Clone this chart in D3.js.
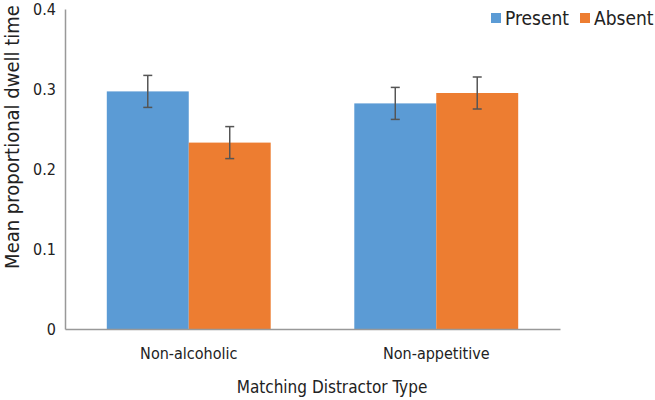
<!DOCTYPE html>
<html><head><meta charset="utf-8">
<script src="https://cdn.jsdelivr.net/npm/d3@7"></script>
<style>body{margin:0;background:#fff}svg{display:block}text{font-family:"DejaVu Sans Condensed","DejaVu Sans",sans-serif;fill:#222}</style>
</head><body>
<svg id="c" width="655" height="400"></svg>
<script>
const categories = ["Non-alcoholic", "Non-appetitive"];
const seriesNames = ["Present", "Absent"];
const presentValues = [0.297, 0.282];
const absentValues = [0.233, 0.295];
const presentErrors = [0.020, 0.020];
const absentErrors = [0.020, 0.020];
const yTicks = [0, 0.1, 0.2, 0.3, 0.4];
const colors = ["#5b9bd5", "#ed7d31"];
const FONT = '"DejaVu Sans Condensed","DejaVu Sans",sans-serif';

const svg = d3.select("#c");
const x0 = d3.scaleBand().domain(categories).range([65, 560]).paddingInner(0).paddingOuter(0);
const inner = d3.scaleBand().domain(seriesNames).range([0, x0.bandwidth()]).paddingInner(0).paddingOuter(0.51);
const y = d3.scaleLinear().domain([0, 0.4]).range([329, 9]);

const rows = [];
categories.forEach((c, i) => {
  rows.push({cat: c, s: "Present", v: presentValues[i], e: presentErrors[i], col: colors[0]});
  rows.push({cat: c, s: "Absent", v: absentValues[i], e: absentErrors[i], col: colors[1]});
});

svg.append("g").selectAll("rect").data(rows).join("rect")
  .attr("x", d => x0(d.cat) + inner(d.s))
  .attr("y", d => y(d.v))
  .attr("width", inner.bandwidth())
  .attr("height", d => y(0) - y(d.v))
  .attr("fill", d => d.col);

// y axis
const yAxis = d3.axisLeft(y).tickValues(yTicks).tickFormat(d => d === 0 ? "0" : d3.format(".1f")(d)).tickSize(0).tickPadding(9);
const ga = svg.append("g").attr("transform", "translate(65,0)").call(yAxis);
ga.select(".domain").attr("stroke", "#999").attr("stroke-width", 1.5);
ga.selectAll("text").style("font-size", "16px").attr("fill", "#222").style("font-family", FONT);

// x axis
const xAxis = d3.axisBottom(x0).tickSize(0).tickPadding(19);
const gx = svg.append("g").attr("transform", "translate(0,329)").call(xAxis);
gx.select(".domain").attr("stroke", "#999").attr("stroke-width", 1.5);
gx.selectAll("text").style("font-size", "16px").attr("fill", "#222").style("font-family", FONT);

// error bars
const eb = svg.append("g").attr("stroke", "#555").attr("stroke-width", 1.5);
rows.forEach(d => {
  const cx = x0(d.cat) + inner(d.s) + inner.bandwidth() / 2;
  eb.append("line").attr("x1", cx).attr("x2", cx).attr("y1", y(d.v + d.e)).attr("y2", y(d.v - d.e));
  eb.append("line").attr("x1", cx - 4.5).attr("x2", cx + 4.5).attr("y1", y(d.v + d.e)).attr("y2", y(d.v + d.e));
  eb.append("line").attr("x1", cx - 4.5).attr("x2", cx + 4.5).attr("y1", y(d.v - d.e)).attr("y2", y(d.v - d.e));
});

// axis titles
svg.append("text").attr("x", 332).attr("y", 393).attr("text-anchor", "middle").style("font-size", "17px").text("Matching Distractor Type");
svg.append("text").attr("transform", "translate(19,137) rotate(-90)").attr("text-anchor", "middle").style("font-size", "20px").text("Mean proportional dwell time");

// legend
const lg = svg.append("g");
const legX = [491, 580];
seriesNames.forEach((s, i) => {
  lg.append("rect").attr("x", legX[i]).attr("y", 13).attr("width", 10).attr("height", 10).attr("fill", colors[i]);
  lg.append("text").attr("x", legX[i] + 14).attr("y", 18).attr("dy", "0.35em").style("font-size", "19px").text(s);
});
</script>
</body></html>
